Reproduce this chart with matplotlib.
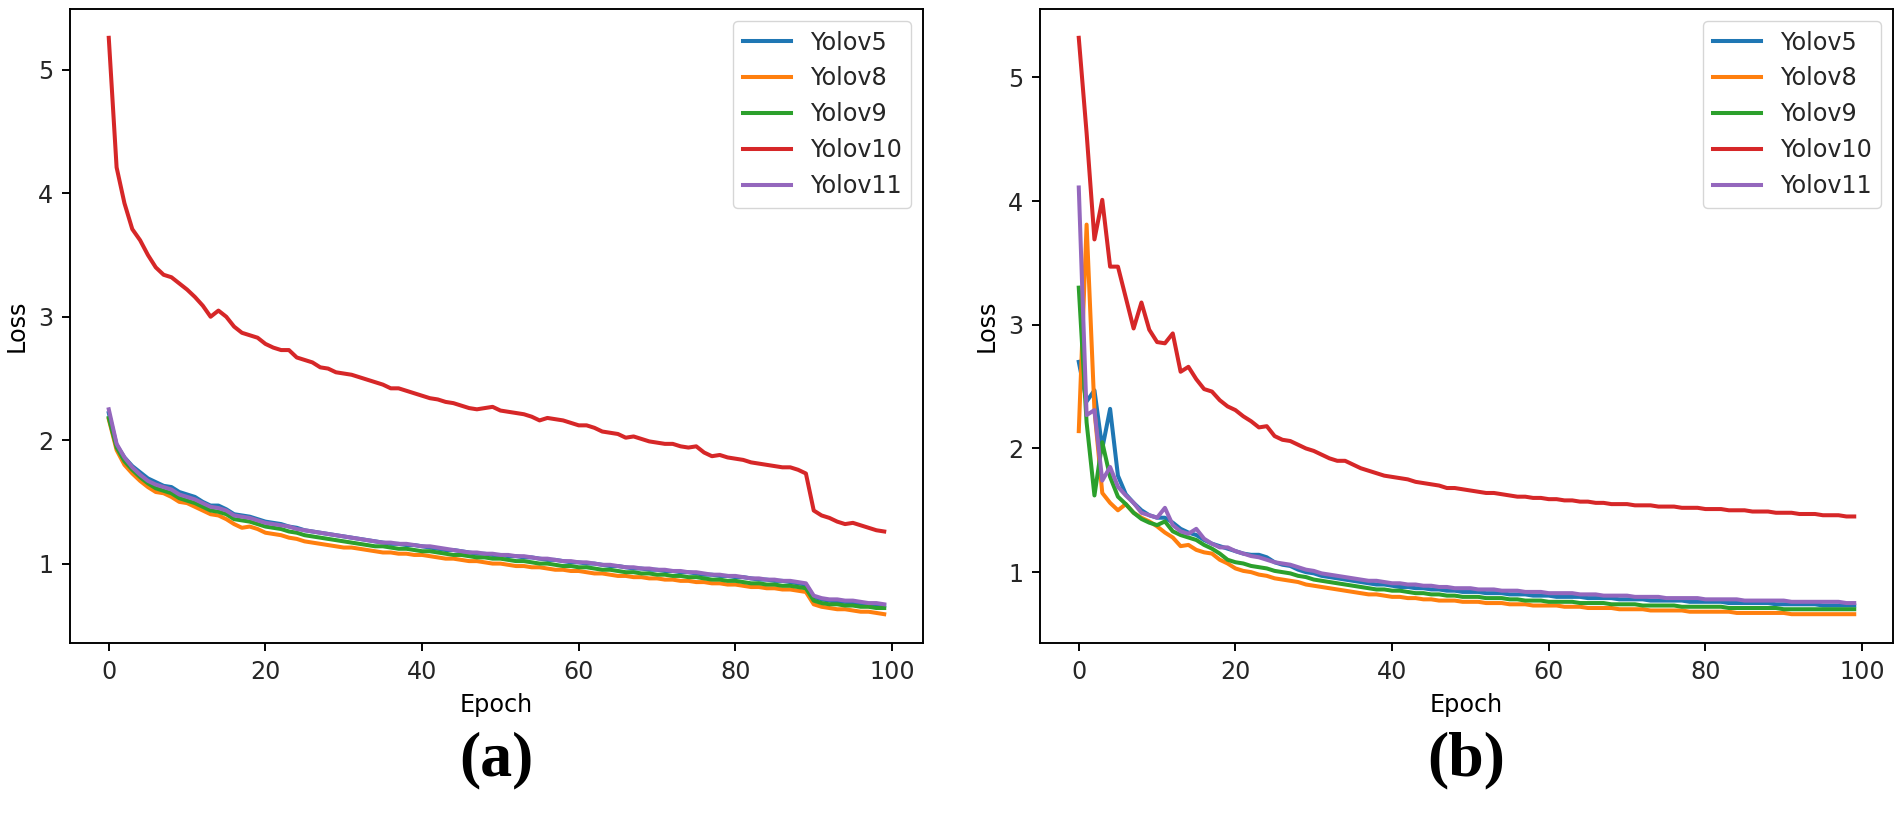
import matplotlib
matplotlib.use('Agg')
import matplotlib.pyplot as plt

# scale of the original panels (default matplotlib look, enlarged)
s = 1.72

epochs = list(range(100))
names = ['Yolov5', 'Yolov8', 'Yolov9', 'Yolov10', 'Yolov11']

# (a) loss curves
a_yolov5 = [2.22, 1.96, 1.86, 1.79, 1.74, 1.69, 1.66, 1.63, 1.62, 1.58,
            1.56, 1.54, 1.50, 1.47, 1.47, 1.44, 1.40, 1.39, 1.38, 1.36,
            1.34, 1.33, 1.32, 1.30, 1.29, 1.27, 1.26, 1.25, 1.24, 1.23,
            1.22, 1.21, 1.20, 1.19, 1.18, 1.17, 1.16, 1.16, 1.15, 1.15,
            1.14, 1.13, 1.12, 1.11, 1.11, 1.10, 1.09, 1.08, 1.08, 1.07,
            1.07, 1.06, 1.06, 1.05, 1.05, 1.04, 1.03, 1.03, 1.02, 1.01,
            1.01, 1.00, 1.00, 0.99, 0.98, 0.98, 0.97, 0.96, 0.96, 0.95,
            0.95, 0.94, 0.94, 0.93, 0.93, 0.92, 0.91, 0.91, 0.90, 0.90,
            0.89, 0.89, 0.88, 0.87, 0.87, 0.86, 0.86, 0.85, 0.84, 0.83,
            0.73, 0.71, 0.70, 0.69, 0.69, 0.68, 0.67, 0.67, 0.66, 0.66]
a_yolov8 = [2.17, 1.92, 1.80, 1.73, 1.67, 1.62, 1.58, 1.57, 1.54, 1.50,
            1.49, 1.46, 1.43, 1.40, 1.39, 1.36, 1.32, 1.29, 1.30, 1.28,
            1.25, 1.24, 1.23, 1.21, 1.20, 1.18, 1.17, 1.16, 1.15, 1.14,
            1.13, 1.13, 1.12, 1.11, 1.10, 1.09, 1.09, 1.08, 1.08, 1.07,
            1.07, 1.06, 1.05, 1.04, 1.04, 1.03, 1.02, 1.02, 1.01, 1.00,
            1.00, 0.99, 0.98, 0.98, 0.97, 0.97, 0.96, 0.95, 0.95, 0.94,
            0.94, 0.93, 0.92, 0.92, 0.91, 0.90, 0.90, 0.89, 0.89, 0.88,
            0.88, 0.87, 0.87, 0.86, 0.86, 0.85, 0.85, 0.84, 0.84, 0.83,
            0.83, 0.82, 0.81, 0.81, 0.80, 0.80, 0.79, 0.79, 0.78, 0.77,
            0.67, 0.65, 0.64, 0.63, 0.63, 0.62, 0.61, 0.61, 0.60, 0.59]
a_yolov9 = [2.18, 1.94, 1.83, 1.76, 1.70, 1.65, 1.61, 1.59, 1.57, 1.53,
            1.51, 1.49, 1.46, 1.43, 1.42, 1.40, 1.36, 1.35, 1.34, 1.32,
            1.30, 1.29, 1.28, 1.26, 1.25, 1.23, 1.22, 1.21, 1.20, 1.19,
            1.18, 1.17, 1.16, 1.15, 1.14, 1.14, 1.13, 1.12, 1.12, 1.11,
            1.10, 1.10, 1.09, 1.08, 1.07, 1.07, 1.06, 1.05, 1.05, 1.04,
            1.04, 1.03, 1.02, 1.02, 1.01, 1.00, 1.00, 0.99, 0.98, 0.98,
            0.97, 0.97, 0.96, 0.95, 0.95, 0.94, 0.93, 0.93, 0.92, 0.92,
            0.91, 0.91, 0.90, 0.90, 0.89, 0.89, 0.88, 0.87, 0.87, 0.86,
            0.86, 0.85, 0.84, 0.84, 0.83, 0.83, 0.82, 0.82, 0.81, 0.80,
            0.70, 0.68, 0.67, 0.67, 0.66, 0.66, 0.65, 0.65, 0.64, 0.64]
a_yolov10 = [5.26, 4.21, 3.92, 3.71, 3.62, 3.50, 3.40, 3.34, 3.32, 3.27,
             3.22, 3.16, 3.09, 3.00, 3.05, 3.00, 2.92, 2.87, 2.85, 2.83,
             2.78, 2.75, 2.73, 2.73, 2.67, 2.65, 2.63, 2.59, 2.58, 2.55,
             2.54, 2.53, 2.51, 2.49, 2.47, 2.45, 2.42, 2.42, 2.40, 2.38,
             2.36, 2.34, 2.33, 2.31, 2.30, 2.28, 2.26, 2.25, 2.26, 2.27,
             2.24, 2.23, 2.22, 2.21, 2.19, 2.16, 2.18, 2.17, 2.16, 2.14,
             2.12, 2.12, 2.10, 2.07, 2.06, 2.05, 2.02, 2.03, 2.01, 1.99,
             1.98, 1.97, 1.97, 1.95, 1.94, 1.95, 1.90, 1.87, 1.88, 1.86,
             1.85, 1.84, 1.82, 1.81, 1.80, 1.79, 1.78, 1.78, 1.76, 1.73,
             1.43, 1.39, 1.37, 1.34, 1.32, 1.33, 1.31, 1.29, 1.27, 1.26]
a_yolov11 = [2.25, 1.97, 1.86, 1.78, 1.72, 1.67, 1.64, 1.62, 1.60, 1.56,
             1.54, 1.52, 1.49, 1.46, 1.45, 1.43, 1.39, 1.38, 1.37, 1.35,
             1.33, 1.32, 1.31, 1.30, 1.28, 1.27, 1.26, 1.25, 1.24, 1.23,
             1.22, 1.21, 1.20, 1.19, 1.18, 1.17, 1.17, 1.16, 1.16, 1.15,
             1.14, 1.14, 1.13, 1.12, 1.11, 1.10, 1.09, 1.09, 1.08, 1.08,
             1.07, 1.07, 1.06, 1.06, 1.05, 1.04, 1.04, 1.03, 1.02, 1.02,
             1.01, 1.01, 1.00, 0.99, 0.99, 0.98, 0.97, 0.97, 0.96, 0.96,
             0.95, 0.95, 0.94, 0.94, 0.93, 0.93, 0.92, 0.91, 0.91, 0.90,
             0.90, 0.89, 0.88, 0.88, 0.87, 0.87, 0.86, 0.86, 0.85, 0.84,
             0.74, 0.72, 0.71, 0.71, 0.70, 0.70, 0.69, 0.68, 0.68, 0.67]

# (b) loss curves
b_yolov5 = [2.70, 2.38, 2.47, 2.00, 2.32, 1.78, 1.63, 1.56, 1.50, 1.46,
            1.44, 1.44, 1.40, 1.35, 1.32, 1.30, 1.26, 1.23, 1.21, 1.19,
            1.17, 1.15, 1.14, 1.14, 1.12, 1.08, 1.06, 1.05, 1.02, 1.00,
            0.99, 0.97, 0.96, 0.95, 0.94, 0.93, 0.92, 0.91, 0.90, 0.90,
            0.89, 0.88, 0.88, 0.87, 0.87, 0.86, 0.86, 0.85, 0.85, 0.84,
            0.84, 0.84, 0.83, 0.83, 0.83, 0.82, 0.82, 0.82, 0.81, 0.81,
            0.81, 0.80, 0.80, 0.80, 0.80, 0.79, 0.79, 0.79, 0.79, 0.78,
            0.78, 0.78, 0.78, 0.77, 0.77, 0.77, 0.77, 0.77, 0.76, 0.76,
            0.76, 0.76, 0.76, 0.75, 0.75, 0.75, 0.75, 0.75, 0.75, 0.74,
            0.74, 0.74, 0.74, 0.74, 0.74, 0.73, 0.73, 0.73, 0.73, 0.73]
b_yolov8 = [2.14, 3.81, 2.31, 1.64, 1.56, 1.50, 1.55, 1.48, 1.44, 1.41,
            1.37, 1.32, 1.28, 1.21, 1.22, 1.18, 1.16, 1.15, 1.10, 1.07,
            1.03, 1.01, 1.00, 0.98, 0.97, 0.95, 0.94, 0.93, 0.92, 0.90,
            0.89, 0.88, 0.87, 0.86, 0.85, 0.84, 0.83, 0.82, 0.82, 0.81,
            0.80, 0.80, 0.79, 0.79, 0.78, 0.78, 0.77, 0.77, 0.77, 0.76,
            0.76, 0.76, 0.75, 0.75, 0.75, 0.74, 0.74, 0.74, 0.73, 0.73,
            0.73, 0.73, 0.72, 0.72, 0.72, 0.71, 0.71, 0.71, 0.71, 0.70,
            0.70, 0.70, 0.70, 0.69, 0.69, 0.69, 0.69, 0.69, 0.68, 0.68,
            0.68, 0.68, 0.68, 0.68, 0.67, 0.67, 0.67, 0.67, 0.67, 0.67,
            0.67, 0.66, 0.66, 0.66, 0.66, 0.66, 0.66, 0.66, 0.66, 0.66]
b_yolov9 = [3.30, 2.21, 1.62, 2.05, 1.77, 1.61, 1.55, 1.48, 1.43, 1.40,
            1.38, 1.41, 1.33, 1.30, 1.28, 1.26, 1.22, 1.19, 1.15, 1.10,
            1.08, 1.07, 1.05, 1.04, 1.03, 1.01, 1.00, 0.99, 0.97, 0.96,
            0.94, 0.93, 0.92, 0.91, 0.90, 0.89, 0.88, 0.87, 0.86, 0.86,
            0.85, 0.85, 0.84, 0.83, 0.83, 0.82, 0.82, 0.81, 0.81, 0.80,
            0.80, 0.80, 0.79, 0.79, 0.79, 0.78, 0.78, 0.77, 0.77, 0.77,
            0.76, 0.76, 0.76, 0.76, 0.75, 0.75, 0.75, 0.75, 0.74, 0.74,
            0.74, 0.74, 0.73, 0.73, 0.73, 0.73, 0.73, 0.72, 0.72, 0.72,
            0.72, 0.72, 0.72, 0.71, 0.71, 0.71, 0.71, 0.71, 0.71, 0.71,
            0.70, 0.70, 0.70, 0.70, 0.70, 0.70, 0.70, 0.70, 0.70, 0.70]
b_yolov10 = [5.32, 4.55, 3.69, 4.01, 3.47, 3.47, 3.22, 2.97, 3.18, 2.96,
             2.86, 2.85, 2.93, 2.62, 2.66, 2.56, 2.48, 2.46, 2.39, 2.34,
             2.31, 2.26, 2.22, 2.17, 2.18, 2.10, 2.07, 2.06, 2.03, 2.00,
             1.98, 1.95, 1.92, 1.90, 1.90, 1.87, 1.84, 1.82, 1.80, 1.78,
             1.77, 1.76, 1.75, 1.73, 1.72, 1.71, 1.70, 1.68, 1.68, 1.67,
             1.66, 1.65, 1.64, 1.64, 1.63, 1.62, 1.61, 1.61, 1.60, 1.60,
             1.59, 1.59, 1.58, 1.58, 1.57, 1.57, 1.56, 1.56, 1.55, 1.55,
             1.55, 1.54, 1.54, 1.54, 1.53, 1.53, 1.53, 1.52, 1.52, 1.52,
             1.51, 1.51, 1.51, 1.50, 1.50, 1.50, 1.49, 1.49, 1.49, 1.48,
             1.48, 1.48, 1.47, 1.47, 1.47, 1.46, 1.46, 1.46, 1.45, 1.45]
b_yolov11 = [4.11, 2.27, 2.31, 1.74, 1.85, 1.69, 1.62, 1.56, 1.48, 1.46,
             1.44, 1.52, 1.38, 1.33, 1.31, 1.35, 1.27, 1.23, 1.20, 1.20,
             1.17, 1.15, 1.13, 1.12, 1.10, 1.08, 1.07, 1.06, 1.04, 1.02,
             1.01, 0.99, 0.98, 0.97, 0.96, 0.95, 0.94, 0.93, 0.93, 0.92,
             0.91, 0.91, 0.90, 0.90, 0.89, 0.89, 0.88, 0.88, 0.87, 0.87,
             0.87, 0.86, 0.86, 0.86, 0.85, 0.85, 0.85, 0.84, 0.84, 0.84,
             0.83, 0.83, 0.83, 0.83, 0.82, 0.82, 0.82, 0.81, 0.81, 0.81,
             0.81, 0.80, 0.80, 0.80, 0.80, 0.79, 0.79, 0.79, 0.79, 0.79,
             0.78, 0.78, 0.78, 0.78, 0.78, 0.77, 0.77, 0.77, 0.77, 0.77,
             0.77, 0.76, 0.76, 0.76, 0.76, 0.76, 0.76, 0.76, 0.75, 0.75]

panel_a = [a_yolov5, a_yolov8, a_yolov9, a_yolov10, a_yolov11]
panel_b = [b_yolov5, b_yolov8, b_yolov9, b_yolov10, b_yolov11]

plt.rcParams['font.family'] = 'DejaVu Sans'
plt.rcParams['font.size'] = 10 * s
plt.rcParams['axes.linewidth'] = 0.8 * s
plt.rcParams['xtick.major.size'] = 3.5 * s
plt.rcParams['ytick.major.size'] = 3.5 * s
plt.rcParams['xtick.major.width'] = 0.8 * s
plt.rcParams['ytick.major.width'] = 0.8 * s
plt.rcParams['xtick.major.pad'] = 3.5 * s
plt.rcParams['ytick.major.pad'] = 3.5 * s
plt.rcParams['axes.labelpad'] = 4.0 * s
plt.rcParams['lines.linewidth'] = 2.9
plt.rcParams['legend.fontsize'] = 10 * s
plt.rcParams['text.color'] = '#262626'
plt.rcParams['xtick.labelcolor'] = '#262626'
plt.rcParams['ytick.labelcolor'] = '#262626'

fig = plt.figure(figsize=(19.02, 8.18), dpi=100)
W, H = 1902, 818

# axes boxes in pixels: left, right, top, bottom
boxes = [(70, 923, 9, 643), (1040, 1893, 9, 643)]
tags = ['(a)', '(b)']

for (l, r, t, b), data, tag in zip(boxes, [panel_a, panel_b], tags):
    ax = fig.add_axes([l / W, 1 - b / H, (r - l) / W, (b - t) / H])
    for vals, name in zip(data, names):
        ax.plot(epochs, vals, label=name)
    ax.set_xlabel('Epoch')
    ax.set_ylabel('Loss')
    ax.set_xticks([0, 20, 40, 60, 80, 100])
    ax.legend(loc='upper right')
    fig.text((l + r) / 2 / W, 1 - 760 / H, tag, ha='center', va='center',
             family='Liberation Serif', fontweight='bold', fontsize=46,
             color='black')

fig.savefig('out.png', dpi=100)
